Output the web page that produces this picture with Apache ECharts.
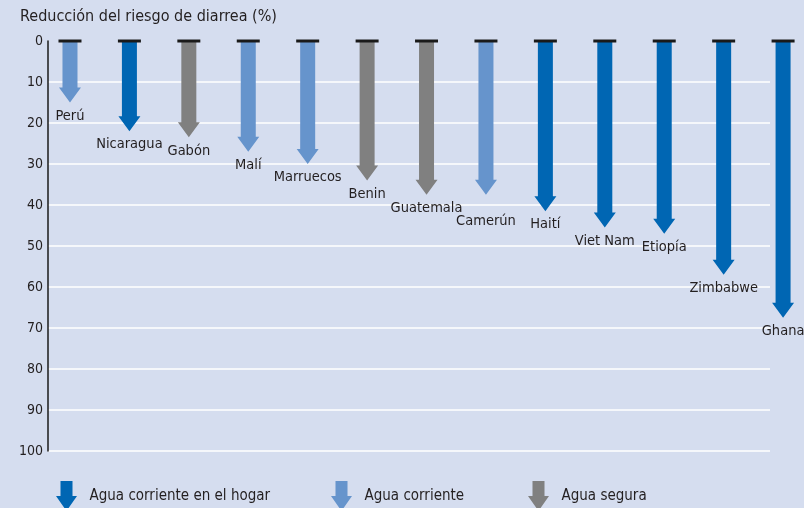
<!DOCTYPE html>
<html>
<head>
<meta charset="utf-8">
<script src="https://cdn.jsdelivr.net/npm/echarts@6/dist/echarts.min.js"></script>
<style>
  html, body { margin: 0; padding: 0; background: #d5ddef; }
  #chart { width: 804px; height: 508px; }
</style>
</head>
<body>
<div id="chart"></div>
<script>
const countries = ['Perú', 'Nicaragua', 'Gabón', 'Malí', 'Marruecos', 'Benin', 'Guatemala', 'Camerún', 'Haití', 'Viet Nam', 'Etiopía', 'Zimbabwe', 'Ghana']
const values = [15, 22, 23.5, 27, 30, 34, 37.5, 37.5, 41.5, 45.5, 47, 57, 67.5]
const types = ['corriente', 'hogar', 'segura', 'corriente', 'corriente', 'segura', 'segura', 'corriente', 'hogar', 'hogar', 'hogar', 'hogar', 'hogar']
const yTicks = [0, 10, 20, 30, 40, 50, 60, 70, 80, 90, 100]

const FONT = '"DejaVu Sans Condensed", "Liberation Sans Narrow", Arial, sans-serif'
const TextColor = '#231f20'

const seriesDefs = [
  { key: 'hogar', name: 'Agua corriente en el hogar', color: '#0066b3' },
  { key: 'corriente', name: 'Agua corriente', color: '#6694cc' },
  { key: 'segura', name: 'Agua segura', color: '#808080' }
]

const arrowIcon = 'path://M4.5,0 L16.5,0 L16.5,15 L21,15 L10.5,30 L0,15 L4.5,15 Z'

const renderArrow = (color) => (params, api) => {
  const idx = api.value(0)
  const v = api.value(1)
  const top = api.coord([idx, 0])
  const tip = api.coord([idx, v])
  const cx = top[0]
  const headH = 15
  const shaftHalf = 7.5
  const headHalf = 11
  // push the label down when the neighbour on the left ends at the same height
  const prev = values[idx - 1]
  const labelDy = prev !== undefined && Math.abs(prev - v) < 1 ? 19 : 6
  return {
    type: 'group',
    children: [
      {
        type: 'polygon',
        shape: {
          points: [
            [cx - shaftHalf, top[1]],
            [cx + shaftHalf, top[1]],
            [cx + shaftHalf, tip[1] - headH],
            [cx + headHalf, tip[1] - headH],
            [cx, tip[1]],
            [cx - headHalf, tip[1] - headH],
            [cx - shaftHalf, tip[1] - headH]
          ]
        },
        style: { fill: color }
      },
      {
        type: 'rect',
        shape: { x: cx - 11.5, y: top[1] - 1.5, width: 23, height: 3 },
        style: { fill: '#1a1a1a' }
      },
      {
        type: 'text',
        style: {
          text: countries[idx],
          x: cx,
          y: tip[1] + labelDy,
          align: 'center',
          verticalAlign: 'top',
          font: '14.5px ' + FONT,
          fill: TextColor
        }
      }
    ]
  }
}

const chart = echarts.init(document.getElementById('chart'))

const option = {
  backgroundColor: '#d5ddef',
  animation: false,
  title: {
    text: 'Reducción del riesgo de diarrea (%)',
    left: 20,
    top: 9,
    padding: 0,
    textStyle: { fontSize: 16, fontWeight: 'normal', color: TextColor, fontFamily: FONT }
  },
  legend: seriesDefs.map((s, i) => ({
    data: [s.name],
    left: [56, 331, 528][i],
    top: 481,
    padding: 0,
    itemWidth: 36,
    itemHeight: 30,
    icon: arrowIcon,
    textStyle: { fontSize: 15, color: TextColor, fontFamily: FONT }
  })),
  grid: { left: 48, right: 34, top: 41, bottom: 57 },
  xAxis: {
    type: 'value',
    min: -0.37,
    max: 11.78,
    show: false
  },
  yAxis: {
    type: 'value',
    inverse: true,
    min: 0,
    max: 100,
    interval: 10,
    axisLine: { show: true, onZero: false, lineStyle: { color: '#1a1a1a', width: 1.5 } },
    axisTick: { show: false },
    axisLabel: {
      margin: 5,
      fontSize: 14,
      color: TextColor,
      fontFamily: FONT,
      formatter: (v) => (yTicks.includes(v) ? String(v) : '')
    },
    splitLine: {
      show: true,
      lineStyle: { color: ['rgba(0,0,0,0)', '#ffffff', '#ffffff', '#ffffff', '#ffffff', '#ffffff', '#ffffff', '#ffffff', '#ffffff', '#ffffff', '#ffffff'], width: 1.5 }
    }
  },
  series: seriesDefs.map((s) => ({
    name: s.name,
    type: 'custom',
    clip: false,
    itemStyle: { color: s.color },
    renderItem: renderArrow(s.color),
    data: countries
      .map((c, i) => [i, values[i], types[i]])
      .filter((d) => d[2] === s.key)
      .map((d) => [d[0], d[1]])
  }))
}

chart.setOption(option)
window.addEventListener('resize', function () {
  chart.resize()
})
</script>
</body>
</html>
